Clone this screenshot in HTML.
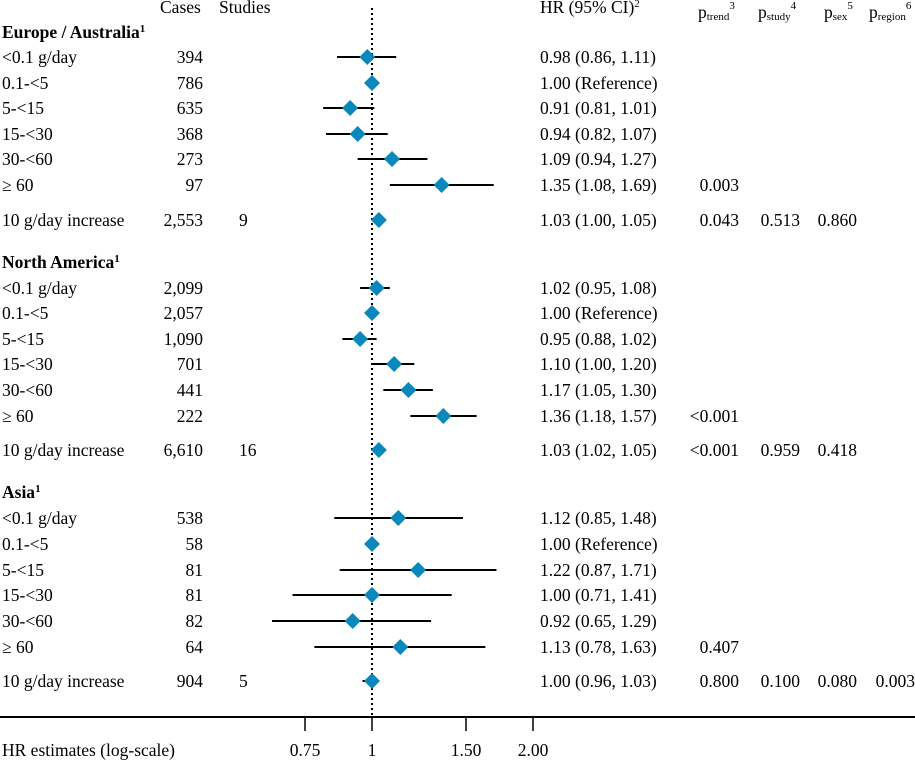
<!DOCTYPE html>
<html><head><meta charset="utf-8">
<style>
html,body{margin:0;padding:0;background:#fff;}
svg, svg text{font-family:"Liberation Serif","Times New Roman",serif;font-size:17.5px;}
svg tspan.s{font-size:11px;}
</style></head>
<body>
<svg id="s" width="915" height="760" xmlns="http://www.w3.org/2000/svg" font-family="Liberation Serif, serif">
<line x1="372" y1="8" x2="372" y2="717" stroke="#000" stroke-width="2" stroke-dasharray="2,3"/>
<line x1="0" y1="717" x2="915" y2="717" stroke="#000" stroke-width="2"/>
<g stroke="#000" stroke-width="1.5">
<line x1="305" y1="717" x2="305" y2="731"/><line x1="372" y1="717" x2="372" y2="731"/>
<line x1="466" y1="717" x2="466" y2="731"/><line x1="533" y1="717" x2="533" y2="731"/>
</g>
<text x="2" y="756">HR estimates (log-scale)</text>
<text x="305" y="756" text-anchor="middle">0.75</text>
<text x="372" y="756" text-anchor="middle">1</text>
<text x="466" y="756" text-anchor="middle">1.50</text>
<text x="533" y="756" text-anchor="middle">2.00</text>
<text x="160" y="13">Cases</text>
<text x="219" y="13">Studies</text>
<text x="540" y="13">HR (95% CI)<tspan class="s" dy="-6">2</tspan></text>
<text x="698" y="18">p<tspan class="s" dy="2">trend</tspan><tspan class="s" dy="-11">3</tspan></text>
<text x="758" y="18">p<tspan class="s" dy="2">study</tspan><tspan class="s" dy="-11">4</tspan></text>
<text x="824" y="18">p<tspan class="s" dy="2">sex</tspan><tspan class="s" dy="-11">5</tspan></text>
<text x="869" y="18">p<tspan class="s" dy="2">region</tspan><tspan class="s" dy="-11">6</tspan></text>
<g id="g"></g>
</svg>
<script>
var g=document.getElementById('g'),h='';
function X(v){return 372+232*Math.log(v);}
function T(x,y,t,a,extra){h+='<text x="'+x+'" y="'+y+'"'+(a?' text-anchor="'+a+'"':'')+(extra||'')+'>'+t+'</text>';}
var sections=[
 {name:'Europe / Australia',y:32,rows:[
  ['&lt;0.1 g/day','394',0.98,0.86,1.11,'0.98 (0.86, 1.11)'],
  ['0.1-&lt;5','786',1,null,null,'1.00 (Reference)'],
  ['5-&lt;15','635',0.91,0.81,1.01,'0.91 (0.81, 1.01)'],
  ['15-&lt;30','368',0.94,0.82,1.07,'0.94 (0.82, 1.07)'],
  ['30-&lt;60','273',1.09,0.94,1.27,'1.09 (0.94, 1.27)'],
  ['≥ 60','97',1.35,1.08,1.69,'1.35 (1.08, 1.69)','0.003']],
  ys:[57,83,108,134,159,185],inc:[220,'2,553','9',1.03,1.00,1.05,'1.03 (1.00, 1.05)','0.043','0.513','0.860','']},
 {name:'North America',y:262,rows:[
  ['&lt;0.1 g/day','2,099',1.02,0.95,1.08,'1.02 (0.95, 1.08)'],
  ['0.1-&lt;5','2,057',1,null,null,'1.00 (Reference)'],
  ['5-&lt;15','1,090',0.95,0.88,1.02,'0.95 (0.88, 1.02)'],
  ['15-&lt;30','701',1.10,1.00,1.20,'1.10 (1.00, 1.20)'],
  ['30-&lt;60','441',1.17,1.05,1.30,'1.17 (1.05, 1.30)'],
  ['≥ 60','222',1.36,1.18,1.57,'1.36 (1.18, 1.57)','&lt;0.001']],
  ys:[288,313,339,364,390,416],inc:[450,'6,610','16',1.03,1.02,1.05,'1.03 (1.02, 1.05)','&lt;0.001','0.959','0.418','']},
 {name:'Asia',y:492,rows:[
  ['&lt;0.1 g/day','538',1.12,0.85,1.48,'1.12 (0.85, 1.48)'],
  ['0.1-&lt;5','58',1,null,null,'1.00 (Reference)'],
  ['5-&lt;15','81',1.22,0.87,1.71,'1.22 (0.87, 1.71)'],
  ['15-&lt;30','81',1.00,0.71,1.41,'1.00 (0.71, 1.41)'],
  ['30-&lt;60','82',0.92,0.65,1.29,'0.92 (0.65, 1.29)'],
  ['≥ 60','64',1.13,0.78,1.63,'1.13 (0.78, 1.63)','0.407']],
  ys:[518,544,570,595,621,647],inc:[681,'904','5',1.00,0.96,1.03,'1.00 (0.96, 1.03)','0.800','0.100','0.080','0.003']}
];
function dia(v,lo,hi,y){
 if(lo!=null)h+='<line x1="'+X(lo)+'" y1="'+y+'" x2="'+X(hi)+'" y2="'+y+'" stroke="#000" stroke-width="2"/>';
 var x=X(v);h+='<polygon points="'+x+','+(y-8)+' '+(x+8)+','+y+' '+x+','+(y+8)+' '+(x-8)+','+y+'" fill="#0a88bb"/>';
}
sections.forEach(function(s){
 T(2,s.y+6,s.name+'<tspan class="s" dy="-6">1</tspan>',null,' font-weight="bold"');
 s.rows.forEach(function(r,i){var y=s.ys[i],ty=y+6;
  T(2,ty,r[0]);T(203,ty,r[1],'end');T(540,ty,r[5]);if(r[6])T(739,ty,r[6],'end');
  dia(r[2],r[3],r[4],y);});
 var c=s.inc,ty=c[0]+6;
 T(2,ty,'10 g/day increase');T(203,ty,c[1],'end');T(239,ty,c[2]);T(540,ty,c[6]);
 T(739,ty,c[7],'end');T(800,ty,c[8],'end');T(857,ty,c[9],'end');if(c[10])T(915,ty,c[10],'end');
 dia(c[3],c[4],c[5],c[0]);
});
g.innerHTML=h;
</script>
</body></html>
